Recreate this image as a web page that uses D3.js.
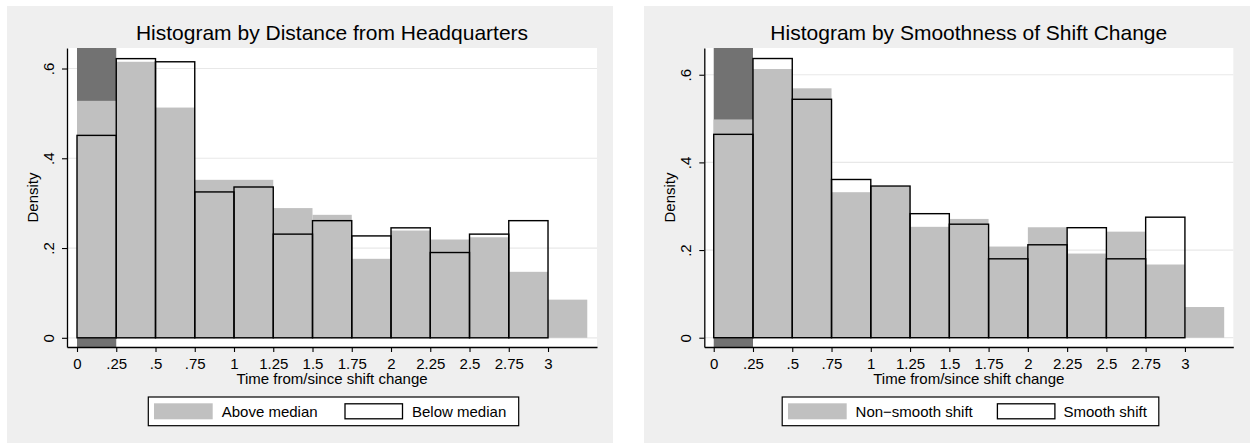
<!DOCTYPE html>
<html><head><meta charset="utf-8">
<script src="https://cdn.jsdelivr.net/npm/d3@7"></script>
<style>
body{margin:0;background:#fff}
text{font-family:"Liberation Sans",Arial,Helvetica,sans-serif;fill:#000}
</style>
</head><body>
<svg id="c" width="1255" height="443"></svg>
<script>
// ---------- data ----------
const binStarts = [0, 0.25, 0.5, 0.75, 1, 1.25, 1.5, 1.75, 2, 2.25, 2.5, 2.75, 3];
const binWidth = 0.25;
const xTickValues = [0, 0.25, 0.5, 0.75, 1, 1.25, 1.5, 1.75, 2, 2.25, 2.5, 2.75, 3];
const xTickLabels = ["0", ".25", ".5", ".75", "1", "1.25", "1.5", "1.75", "2", "2.25", "2.5", "2.75", "3"];
const yTickValues = [0, 0.2, 0.4, 0.6];
const yTickLabels = ["0", ".2", ".4", ".6"];
const shadeInterval = [0, 0.25];
const xTitle = "Time from/since shift change";
const yTitle = "Density";

const title1 = "Histogram by Distance from Headquarters";
const legend1 = ["Above median", "Below median"];
const aboveMedian = [0.528, 0.615, 0.513, 0.352, 0.352, 0.289, 0.274, 0.176, 0.239, 0.219, 0.224, 0.147, 0.085];
const belowMedian = [0.451, 0.622, 0.615, 0.325, 0.336, 0.231, 0.261, 0.227, 0.245, 0.190, 0.231, 0.261];

const title2 = "Histogram by Smoothness of Shift Change";
const legend2 = ["Non\u2212smooth shift", "Smooth shift"];
const nonSmooth = [0.498, 0.613, 0.569, 0.332, 0.344, 0.253, 0.271, 0.208, 0.252, 0.192, 0.242, 0.167, 0.070];
const smooth = [0.464, 0.637, 0.544, 0.361, 0.346, 0.283, 0.259, 0.180, 0.212, 0.251, 0.180, 0.275];

// ---------- layout ----------
const panels = [
  {bgX: 7, bgW: 606, plotL: 67, plotR: 597, xDom: [-0.0637, 3.312], yDom: [-0.0205, 0.6457],
   title: title1, labels: legend1, grayVals: aboveMedian, outlineVals: belowMedian,
   legend: {x: 148.3, w: 370.4, sw1: 154, tx1: 221.7, sw2: 345, tx2: 412}},
  {bgX: 644, bgW: 606, plotL: 704.3, plotR: 1233.3, xDom: [-0.06, 3.308], yDom: [-0.0212, 0.661],
   title: title2, labels: legend2, grayVals: nonSmooth, outlineVals: smooth,
   legend: {x: 782.2, w: 376.6, sw1: 788, tx1: 855.6, sw2: 997.4, tx2: 1063.5}}
];
const plotTop = 48, plotBot = 347;

const svg = d3.select("#c");

panels.forEach(p => {
  const g = svg.append("g");
  g.append("rect").attr("x", p.bgX).attr("y", 6).attr("width", p.bgW).attr("height", 443 - 6).attr("fill", "#efefef");
  g.append("rect").attr("x", p.plotL).attr("y", plotTop).attr("width", p.plotR - p.plotL).attr("height", plotBot - plotTop).attr("fill", "#fff");

  const x = d3.scaleLinear().domain(p.xDom).range([p.plotL, p.plotR]);
  const y = d3.scaleLinear().domain(p.yDom).range([plotBot, plotTop]);

  // gridlines
  g.selectAll(".grid").data(yTickValues).join("line")
    .attr("x1", p.plotL).attr("x2", p.plotR)
    .attr("y1", d => y(d)).attr("y2", d => y(d))
    .attr("stroke", "#e8e8e8").attr("stroke-width", 1.2);

  // shaded interval
  g.append("rect")
    .attr("x", x(shadeInterval[0])).attr("width", x(shadeInterval[1]) - x(shadeInterval[0]))
    .attr("y", y(p.yDom[1])).attr("height", y(p.yDom[0]) - y(p.yDom[1]))
    .attr("fill", "#727272");

  // gray bars
  g.selectAll(".gb").data(p.grayVals).join("rect")
    .attr("x", (d, i) => x(binStarts[i]))
    .attr("width", (d, i) => x(binStarts[i] + binWidth) - x(binStarts[i]))
    .attr("y", d => y(d)).attr("height", d => y(0) - y(d))
    .attr("fill", "#c0c0c0");

  // outline bars
  g.selectAll(".ob").data(p.outlineVals).join("rect")
    .attr("x", (d, i) => x(binStarts[i]))
    .attr("width", (d, i) => x(binStarts[i] + binWidth) - x(binStarts[i]))
    .attr("y", d => y(d)).attr("height", d => y(0) - y(d))
    .attr("fill", "none").attr("stroke", "#000").attr("stroke-width", 1.4);

  // x axis
  const xa = g.append("g").attr("transform", `translate(0,${plotBot})`)
    .call(d3.axisBottom(x).tickValues(xTickValues).tickFormat((d, i) => xTickLabels[i]).tickSize(5).tickSizeOuter(0).tickPadding(6));
  xa.select(".domain").attr("stroke", "#000").attr("stroke-width", 1.3);
  xa.selectAll(".tick line").attr("stroke", "#000").attr("stroke-width", 1.1);
  xa.selectAll(".tick text").attr("font-size", 15).attr("font-family", '"Liberation Sans",Arial,sans-serif').attr("fill", "#000");

  // y axis
  const ya = g.append("g").attr("transform", `translate(${p.plotL},0)`)
    .call(d3.axisLeft(y).tickValues(yTickValues).tickFormat((d, i) => yTickLabels[i]).tickSize(5).tickSizeOuter(0));
  ya.select(".domain").attr("stroke", "#000").attr("stroke-width", 1.3);
  ya.selectAll(".tick line").attr("stroke", "#000").attr("stroke-width", 1.1);
  ya.selectAll(".tick text")
    .attr("font-size", 15).attr("font-family", '"Liberation Sans",Arial,sans-serif').attr("fill", "#000")
    .attr("x", null).attr("dy", null)
    .attr("text-anchor", "middle")
    .attr("transform", "translate(-13.5,0) rotate(-90)");

  // axis titles
  g.append("text").attr("x", (p.plotL + p.plotR) / 2).attr("y", 384)
    .attr("text-anchor", "middle").attr("font-size", 15).text(xTitle);
  g.append("text").attr("transform", `translate(${p.plotL - 29.5},${(plotTop + plotBot) / 2}) rotate(-90)`)
    .attr("text-anchor", "middle").attr("font-size", 15).text(yTitle);

  // title
  g.append("text").attr("x", (p.plotL + p.plotR) / 2).attr("y", 40)
    .attr("text-anchor", "middle").attr("font-size", 21).text(p.title);

  // legend
  const L = p.legend;
  g.append("rect").attr("x", L.x).attr("y", 397).attr("width", L.w).attr("height", 28.7)
    .attr("fill", "#fff").attr("stroke", "#000").attr("stroke-width", 1.2);
  g.append("rect").attr("x", L.sw1).attr("y", 403.3).attr("width", 58.7).attr("height", 16).attr("fill", "#c0c0c0");
  g.append("text").attr("x", L.tx1).attr("y", 416.5).attr("font-size", 15).text(p.labels[0]);
  g.append("rect").attr("x", L.sw2).attr("y", 403.8).attr("width", 57.5).attr("height", 15)
    .attr("fill", "#fff").attr("stroke", "#000").attr("stroke-width", 1.3);
  g.append("text").attr("x", L.tx2).attr("y", 416.5).attr("font-size", 15).text(p.labels[1]);
});
</script>
</body></html>
